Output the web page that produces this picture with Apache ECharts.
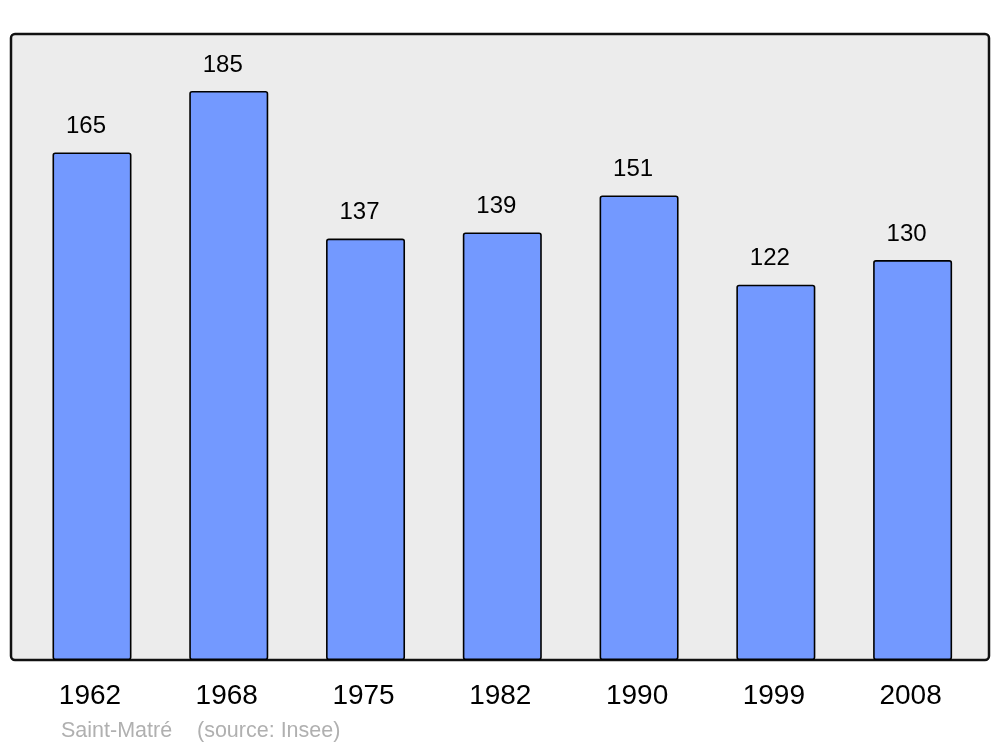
<!DOCTYPE html>
<html><head><meta charset="utf-8">
<script src="https://cdn.jsdelivr.net/npm/echarts@6/dist/echarts.min.js"></script>
<style>html,body{margin:0;padding:0;background:#fff}#c{width:1000px;height:747px}</style>
</head><body><div id="c"></div>
<script>
const years = ['1962','1968','1975','1982','1990','1999','2008'];
const population = [165,185,137,139,151,122,130];
const footerPlace = 'Saint-Matré';
const footerSource = '(source: Insee)';

const chart = echarts.init(document.getElementById('c'), null, {renderer:'canvas'});
const ff = '"Liberation Sans", Arial, sans-serif';
chart.setOption({
  animation:false,
  backgroundColor:'#fff',
  graphic:[
    {type:'rect', z:-10, shape:{x:11,y:34,width:978,height:626,r:4},
     style:{fill:'#ececec', stroke:'#111', lineWidth:2.5}},
    {type:'text', left:61, top:720, style:{text:footerPlace, fill:'#b0b0b0', font:'21.5px ' + ff}},
    {type:'text', left:197, top:720, style:{text:footerSource, fill:'#b0b0b0', font:'21.5px ' + ff}}
  ],
  grid:{left:23.6, right:19, top:34, bottom:87, containLabel:false},
  xAxis:{type:'category', data:years,
    axisLine:{show:false}, axisTick:{show:false},
    axisLabel:{color:'#000', fontSize:28, fontFamily:ff, margin:22, padding:[0,4,0,0]}},
  yAxis:{type:'value', min:0, max:203.5, show:false, splitLine:{show:false}},
  series:[{type:'bar', data:population, barWidth:79,
    itemStyle:{color:'#7399ff', borderColor:'#000', borderWidth:1.6, borderRadius:2},
    label:{show:true, position:'top', distance:14, offset:[-6,0], color:'#000', fontSize:24,
      fontFamily:ff}}]
});
</script></body></html>
